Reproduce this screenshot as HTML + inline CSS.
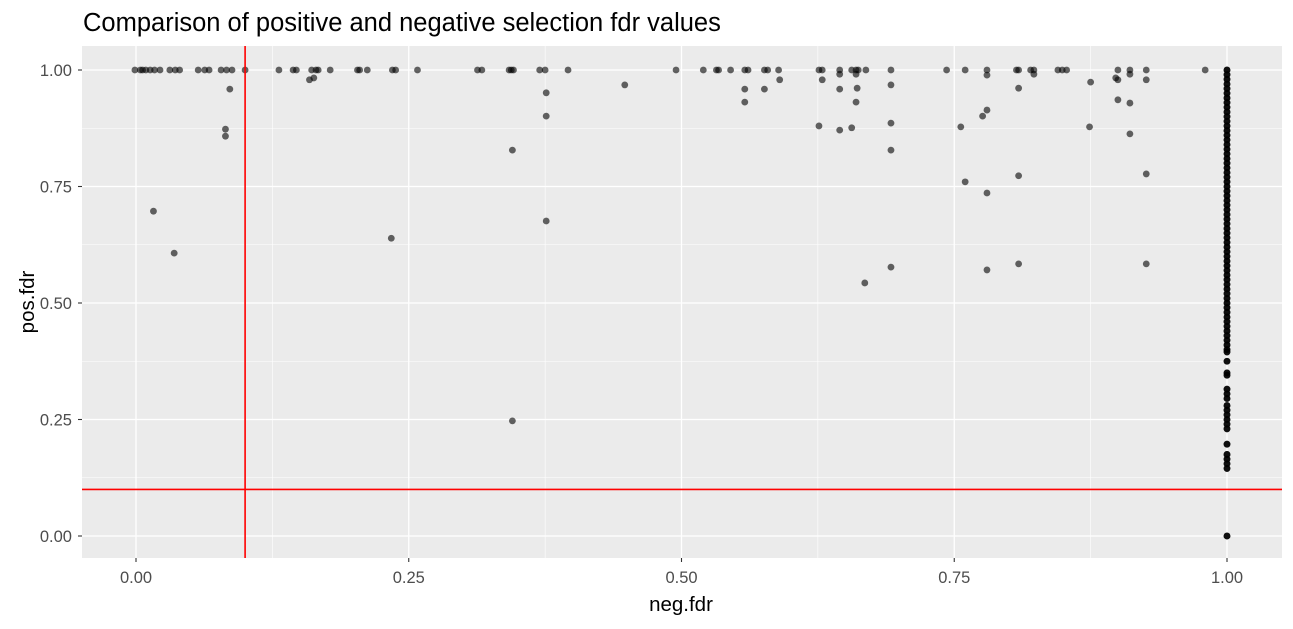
<!DOCTYPE html>
<html><head><meta charset="utf-8"><style>
body{margin:0;background:#fff;font-family:"Liberation Sans",Arial,sans-serif}
svg text{font-family:"Liberation Sans",Arial,sans-serif}
</style></head><body>
<svg id="chart" width="1293" height="624" xmlns="http://www.w3.org/2000/svg">
<text x="83" y="31" font-size="25.5" fill="#000">Comparison of positive and negative selection fdr values</text>
<rect x="82" y="46" width="1200" height="512" fill="#ebebeb"/>
<g id="grid"></g><g id="pts"></g><g id="refs"></g><g id="axes"></g>
<text x="681" y="611" font-size="20.5" text-anchor="middle" fill="#000">neg.fdr</text>
<text transform="translate(34,302) rotate(-90)" font-size="20.5" text-anchor="middle" fill="#000">pos.fdr</text>
</svg>
<script>
const xTicks=[0,0.25,0.5,0.75,1];
const yTicks=[0,0.25,0.5,0.75,1];
const tickLabels=["0.00","0.25","0.50","0.75","1.00"];
const topRowNeg=[-0.001,0.004,0.006,0.009,0.013,0.017,0.022,0.031,0.036,0.040,0.057,0.063,0.067,0.078,0.083,0.088,0.100,0.131,0.144,0.147,0.161,0.165,0.167,0.178,0.203,0.205,0.212,0.235,0.238,0.258,0.313,0.317,0.342,0.344,0.346,0.370,0.375,0.396,0.495,0.520,0.532,0.534,0.545,0.558,0.561,0.576,0.579,0.589,0.626,0.629,0.645,0.656,0.660,0.662,0.669,0.692,0.743,0.760,0.780,0.807,0.809,0.820,0.823,0.845,0.849,0.853,0.900,0.911,0.926,0.980];
const otherNeg=[0.082,0.082,0.086,0.016,0.035,0.159,0.163,0.376,0.376,0.376,0.345,0.234,0.345,0.448,0.590,0.558,0.558,0.576,0.629,0.626,0.645,0.645,0.645,0.656,0.660,0.660,0.661,0.692,0.692,0.692,0.692,0.668,0.756,0.760,0.776,0.780,0.780,0.780,0.780,0.809,0.809,0.809,0.823,0.875,0.874,0.898,0.900,0.900,0.911,0.911,0.911,0.926,0.926,0.926];
const otherPos=[0.873,0.858,0.959,0.697,0.607,0.979,0.983,0.951,0.901,0.676,0.828,0.639,0.247,0.968,0.979,0.959,0.931,0.959,0.979,0.880,0.991,0.959,0.871,0.876,0.991,0.931,0.961,0.968,0.886,0.828,0.577,0.543,0.878,0.760,0.901,0.914,0.989,0.736,0.571,0.961,0.773,0.584,0.991,0.974,0.878,0.983,0.979,0.936,0.991,0.929,0.863,0.979,0.777,0.584];
const colPos=[1,0.99,0.98,0.97,0.96,0.95,0.94,0.93,0.92,0.91,0.9,0.89,0.88,0.87,0.86,0.85,0.84,0.83,0.82,0.81,0.8,0.79,0.78,0.77,0.76,0.75,0.74,0.73,0.72,0.71,0.7,0.69,0.68,0.67,0.66,0.65,0.64,0.63,0.62,0.61,0.6,0.59,0.58,0.57,0.56,0.55,0.54,0.53,0.52,0.51,0.5,0.49,0.48,0.47,0.46,0.45,0.44,0.43,0.42,0.41,0.40,0.395,0.375,0.35,0.345,0.315,0.305,0.295,0.28,0.27,0.26,0.25,0.24,0.23,0.197,0.175,0.165,0.155,0.145,0];
const NS="http://www.w3.org/2000/svg";
const X=v=>136+v*1091, Y=v=>536-v*466;
function mk(t,a,p){const e=document.createElementNS(NS,t);for(const k in a)e.setAttribute(k,a[k]);document.getElementById(p).appendChild(e);return e;}
[0.125,0.375,0.625,0.875].forEach(v=>{
 let l=mk('line',{x1:82,x2:1282,y1:Y(v),y2:Y(v),stroke:'#fff','stroke-width':0.6},'grid');
 
 
 l=mk('line',{y1:46,y2:558,x1:X(v),x2:X(v),stroke:'#fff','stroke-width':0.6},'grid');
 
 
});
xTicks.forEach((v,i)=>{
 let l=mk('line',{y1:46,y2:558,x1:X(v),x2:X(v),stroke:'#fff','stroke-width':1.3},'grid');
 
 
 l=mk('line',{y1:558,y2:562,x1:X(v),x2:X(v),stroke:'#333','stroke-width':1.1},'axes');
 
 
 const t=mk('text',{x:X(v),y:583,'font-size':16.5,'text-anchor':'middle',fill:'#4d4d4d'},'axes');
 t.textContent=tickLabels[i];
 
 
});
yTicks.forEach((v,i)=>{
 let l=mk('line',{x1:82,x2:1282,y1:Y(v),y2:Y(v),stroke:'#fff','stroke-width':1.3},'grid');
 
 
 l=mk('line',{x1:78,x2:82,y1:Y(v),y2:Y(v),stroke:'#333','stroke-width':1.1},'axes');
 
 
 const t=mk('text',{x:72,y:Y(v)+6,'font-size':16.5,'text-anchor':'end',fill:'#4d4d4d'},'axes');
 t.textContent=tickLabels[i];
 
 
});
function pt(x,y){
 const c=mk('circle',{cx:X(x),cy:Y(y),r:3.4,fill:'#000','fill-opacity':0.6},'pts');
 
 
}
topRowNeg.forEach(x=>pt(x,1));
otherNeg.forEach((x,i)=>pt(x,otherPos[i]));
colPos.forEach(y=>{pt(1,y);pt(1,y);pt(1,y);});
let r=mk('line',{x1:X(0.1),x2:X(0.1),y1:46,y2:558,stroke:'#f00','stroke-width':1.6},'refs');


r=mk('line',{x1:82,x2:1282,y1:Y(0.1),y2:Y(0.1),stroke:'#f00','stroke-width':1.6},'refs');


</script>
</body></html>
